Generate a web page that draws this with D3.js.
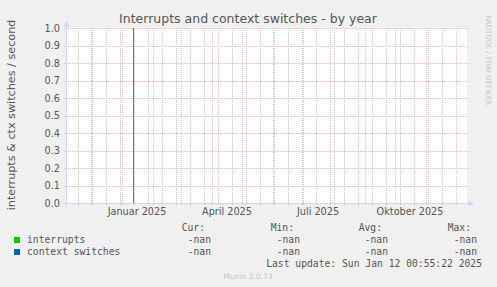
<!DOCTYPE html>
<html>
<head>
<meta charset="utf-8">
<script src="https://cdn.jsdelivr.net/npm/d3@7"></script>
<style>
  body { margin:0; background:#f0f0f0; }
  text { font-family:"DejaVu Sans", sans-serif; }
  .mono { font-family:"DejaVu Sans Mono", monospace; }
</style>
</head>
<body>
<div id="chart"></div>
<script>
const chartWidth = 497;
const chartHeight = 287;

// data
const timeStart = new Date(2024, 10, 7);
const timeEnd = new Date(2025, 11, 12);
const lastUpdate = new Date(2025, 0, 12, 0, 55, 22);
const yTicks = [0, 0.1, 0.2, 0.3, 0.4, 0.5, 0.6, 0.7, 0.8, 0.9, 1.0];
const labelDates = [new Date(2025, 0, 1), new Date(2025, 3, 1), new Date(2025, 6, 1), new Date(2025, 9, 1)];
const labelNames = ["Januar 2025", "April 2025", "Juli 2025", "Oktober 2025"];
const seriesNames = ["interrupts", "context switches"];
const seriesColors = ["#00cc00", "#0066b3"];
const seriesCur = ["-nan", "-nan"];
const seriesMin = ["-nan", "-nan"];
const seriesAvg = ["-nan", "-nan"];
const seriesMax = ["-nan", "-nan"];
const legendHeads = ["Cur:", "Min:", "Avg:", "Max:"];

const svg = d3.select("#chart").append("svg")
  .attr("width", chartWidth)
  .attr("height", chartHeight)
  .style("display", "block")
  .style("background", "#f0f0f0");

const x = d3.scaleTime().domain([timeStart, timeEnd]).range([67, 467]);
const y = d3.scaleLinear().domain([0, 1]).range([203, 28]);

const fontCol = "#555";
const majorCol = "#f3bdbd";
const minorCol = "#c2c2c2";

// plot area
svg.append("rect")
  .attr("x", 67).attr("y", 28)
  .attr("width", 400).attr("height", 175)
  .attr("fill", "#ffffff");

// minor vertical grid (every 2nd monday)
const minorDays = d3.timeMonday.range(new Date(2024, 10, 18), timeEnd, 2);
svg.append("g").selectAll("line")
  .data(minorDays)
  .enter().append("line")
  .attr("x1", d => Math.round(x(d)) + 0.5)
  .attr("x2", d => Math.round(x(d)) + 0.5)
  .attr("y1", 28).attr("y2", 205)
  .attr("stroke", minorCol)
  .attr("stroke-dasharray", "1,1");

// major vertical grid (month starts)
const months = d3.timeMonth.range(d3.timeMonth.ceil(timeStart), timeEnd);
svg.append("g").selectAll("line")
  .data(months)
  .enter().append("line")
  .attr("x1", d => Math.round(x(d)) + 0.5)
  .attr("x2", d => Math.round(x(d)) + 0.5)
  .attr("y1", 28).attr("y2", 206)
  .attr("stroke", majorCol)
  .attr("stroke-dasharray", "1,1");

// horizontal grid
svg.append("g").selectAll("line")
  .data(yTicks)
  .enter().append("line")
  .attr("x1", 64).attr("x2", 470)
  .attr("y1", d => Math.round(y(d)) + 0.5)
  .attr("y2", d => Math.round(y(d)) + 0.5)
  .attr("stroke", majorCol)
  .attr("stroke-dasharray", "1,1");

// y tick labels
svg.append("g").selectAll("text")
  .data(yTicks)
  .enter().append("text")
  .attr("x", 60)
  .attr("y", d => y(d) + 3.5)
  .attr("text-anchor", "end")
  .style("font-size", "9.7px")
  .attr("fill", fontCol)
  .text(d => d3.format(".1f")(d));

// x labels, rrdtool puts them half a month after the tick
svg.append("g").selectAll("text")
  .data(labelDates)
  .enter().append("text")
  .attr("x", d => x(d3.timeDay.offset(d, 15)))
  .attr("y", 215)
  .attr("text-anchor", "middle")
  .style("font-size", "9.7px")
  .attr("fill", fontCol)
  .text((d, i) => labelNames[i]);

// last update line
svg.append("line")
  .attr("x1", Math.round(x(lastUpdate)) + 0.5)
  .attr("x2", Math.round(x(lastUpdate)) + 0.5)
  .attr("y1", 28).attr("y2", 203)
  .attr("stroke", "#777");

// axes
svg.append("line")
  .attr("x1", 66.5).attr("x2", 66.5)
  .attr("y1", 25).attr("y2", 206)
  .attr("stroke", "#cfd6f8");
svg.append("line")
  .attr("x1", 63).attr("x2", 470)
  .attr("y1", 203.5).attr("y2", 203.5)
  .attr("stroke", "#cfd6f8");
svg.append("path")
  .attr("d", "M63.5,27 L66.5,21 L69.5,27 Z")
  .attr("fill", "#cfd6f8");
svg.append("path")
  .attr("d", "M468,200.5 L474,203.5 L468,206.5 Z")
  .attr("fill", "#cfd6f8");

// title
svg.append("text")
  .attr("x", 248)
  .attr("y", 23)
  .attr("text-anchor", "middle")
  .style("font-size", "12.5px")
  .attr("fill", fontCol)
  .text("Interrupts and context switches - by year");

// y axis title
svg.append("text")
  .attr("transform", "translate(14.5,115)rotate(270)")
  .attr("text-anchor", "middle")
  .style("font-size", "11.2px")
  .attr("fill", fontCol)
  .text("interrupts & ctx switches / second");

// watermark
svg.append("text")
  .attr("transform", "translate(485.5,60)rotate(90)")
  .attr("text-anchor", "middle")
  .style("font-size", "7px")
  .attr("fill", "#c4c4c4")
  .text("RRDTOOL / TOBI OETIKER");

// legend
const colRight = [211, 300, 388, 477];
svg.append("g").selectAll("text")
  .data(legendHeads)
  .enter().append("text")
  .attr("class", "mono")
  .attr("x", (d, i) => colRight[i] - 6)
  .attr("y", 231)
  .attr("text-anchor", "end")
  .style("font-size", "9.7px")
  .attr("fill", fontCol)
  .text(d => d);

const rows = svg.append("g").selectAll("g")
  .data(seriesNames)
  .enter().append("g")
  .attr("transform", (d, i) => `translate(0,${243 + i * 12})`);

rows.append("rect")
  .attr("x", 14).attr("y", -6)
  .attr("width", 6).attr("height", 6)
  .attr("fill", (d, i) => seriesColors[i]);

rows.append("text")
  .attr("class", "mono")
  .attr("x", 27).attr("y", 0)
  .style("font-size", "9.7px")
  .attr("fill", fontCol)
  .text(d => d);

[seriesCur, seriesMin, seriesAvg, seriesMax].forEach((vals, c) => {
  rows.append("text")
    .attr("class", "mono")
    .attr("x", colRight[c]).attr("y", 0)
    .attr("text-anchor", "end")
    .style("font-size", "9.7px")
    .attr("fill", fontCol)
    .text((d, i) => vals[i]);
});

svg.append("text")
  .attr("class", "mono")
  .attr("x", 482).attr("y", 267)
  .attr("text-anchor", "end")
  .style("font-size", "9.7px")
  .attr("fill", fontCol)
  .text("Last update: Sun Jan 12 00:55:22 2025");

svg.append("text")
  .attr("x", 248).attr("y", 279)
  .attr("text-anchor", "middle")
  .style("font-size", "7.5px")
  .attr("fill", "#c4c4c4")
  .text("Munin 2.0.73");
</script>
</body>
</html>
